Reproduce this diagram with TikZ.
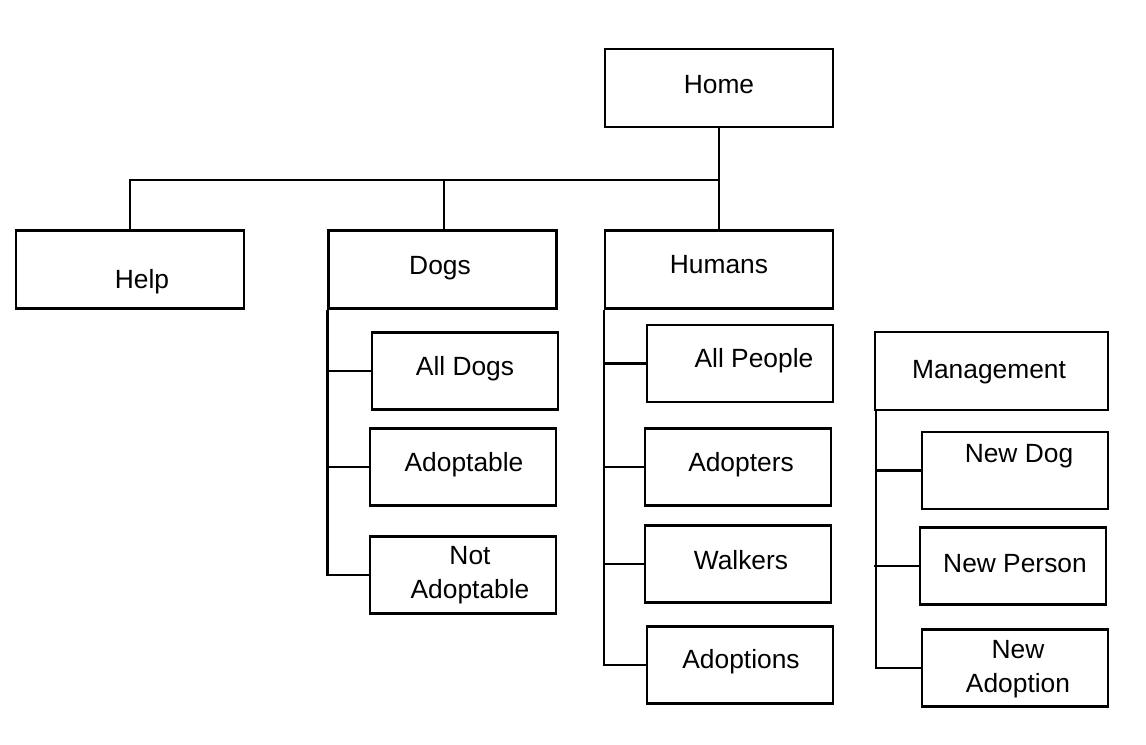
\documentclass[tikz,border=0pt]{standalone}
\usepackage{fontspec}
\setmainfont{Liberation Sans}
\usepackage{tikz}
\usetikzlibrary{positioning}

\begin{document}
\begin{tikzpicture}[x=0.02cm, y=-0.02cm]
        \tikzstyle{every node}=[font=\fontsize{15}{19}\selectfont]
        \tikzstyle{page}=[draw, line width=1.3pt, inner sep=0pt, minimum width=4.56cm, minimum height=1.56cm]
        \tikzstyle{subpage}=[page, minimum width=3.72cm, minimum height=1.54cm]
        \tikzstyle{txt}=[align=center, inner sep=0pt]

        \useasboundingbox (0,0) rectangle (1146,744);

        % top levels
        \node (home)   [page] at (719,88)    [label={[txt, yshift=0.06cm]center:Home}] {};
        \node (help)   [page] at (130,269.5) [label={[txt, xshift=0.24cm, yshift=-0.25cm]center:Help}] {};
        \node (dogs)   [page] at (442.5,269.5) [label={[txt, xshift=-0.05cm, yshift=0.03cm]center:Dogs}] {};
        \node (humans) [page] at (719,269.5) [label={[txt, yshift=0.09cm]center:Humans}] {};
        \node (mgmt)   [page, minimum width=4.66cm] at (991.5,371) [label={[txt, xshift=-0.05cm, yshift=-0.02cm]center:Management}] {};

        % dogs
        \node (alldogs)  [subpage] at (465,371) [label={[txt, yshift=0.04cm]center:All Dogs}] {};
        \node (adoptable) [subpage] at (463,467) [label={[txt, xshift=0.02cm, yshift=0.04cm]center:Adoptable}] {};
        \node (notadopt) [subpage] at (463,575) [label={[txt, xshift=0.14cm, yshift=0.0cm]center:Not\\Adoptable}] {};

        % humans
        \node (allpeople) [subpage] at (740,363.5) [label={[txt, xshift=0.28cm, yshift=0.05cm]center:All People}] {};
        \node (adopters)  [subpage] at (738,467)   [label={[txt, xshift=0.06cm, yshift=0.04cm]center:Adopters}] {};
        \node (walkers)   [subpage] at (738,564)   [label={[txt, xshift=0.06cm, yshift=0.07cm]center:Walkers}] {};
        \node (adoptions) [subpage] at (740,665)   [label={[txt, xshift=0.02cm, yshift=0.06cm]center:Adoptions}] {};

        % management
        \node (newdog)    [subpage] at (1015,470.5) [label={[txt, xshift=0.08cm, yshift=0.29cm]center:New Dog}] {};
        \node (newperson) [subpage] at (1013,566)   [label={[txt, xshift=0.04cm, yshift=0.04cm]center:New Person}] {};
        \node (newadopt)  [subpage] at (1015,668)   [label={[txt, xshift=0.06cm, yshift=-0.02cm]center:New\\Adoption}] {};

        \coordinate (bus) at (719,180);

        \begin{scope}[line width=1.3pt]
            \draw (home.south) -- (humans.north);
            \draw (help.north) |- (bus);
            \draw ([xshift=0.03cm]dogs.north) -- ([xshift=0.03cm]dogs.north |- bus);

            \draw (dogs.south west) |- (notadopt.west);
            \draw (dogs.south west |- alldogs.west) -- (alldogs.west);
            \draw (dogs.south west |- adoptable.west) -- (adoptable.west);

            \draw (humans.south west) |- (adoptions.west);
            \draw (humans.south west |- allpeople.west) -- (allpeople.west);
            \draw (humans.south west |- adopters.west) -- (adopters.west);
            \draw (humans.south west |- walkers.west) -- (walkers.west);

            \draw ([xshift=0.04cm]mgmt.south west) |- (newadopt.west);
            \draw ([xshift=0.04cm]mgmt.south west |- newdog.west) -- (newdog.west);
            \draw (mgmt.south west |- newperson.west) -- (newperson.west);
        \end{scope}
    \end{tikzpicture}
\end{document}
